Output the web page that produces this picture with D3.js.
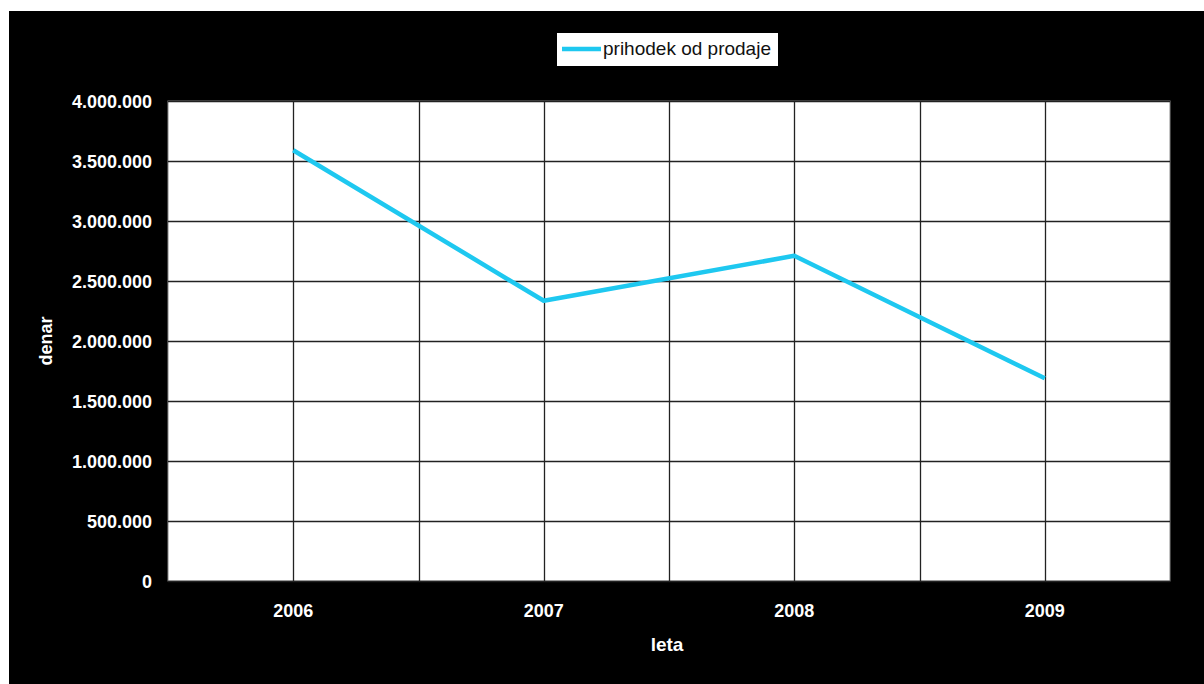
<!DOCTYPE html>
<html><head><meta charset="utf-8">
<script src="https://cdn.jsdelivr.net/npm/d3@7"></script>
<style>
html,body{margin:0;padding:0;background:#fff;}
svg{display:block;}
text{font-family:"Liberation Sans",Arial,sans-serif;}
</style></head>
<body>
<svg id="c" width="1204" height="684"></svg>
<script>
const years = ["2006","2007","2008","2009"];
const revenue = [3590000, 2335000, 2710000, 1690000];
const yTicks = [0,500000,1000000,1500000,2000000,2500000,3000000,3500000,4000000];
const seriesName = "prihodek od prodaje";
const xTitle = "leta";
const yTitle = "denar";

const svg = d3.select("#c");
svg.append("rect").attr("x",9).attr("y",11).attr("width",1195).attr("height",673).attr("fill","#000");

const L=168, R=1170, T=101, B=581;
const x = d3.scaleBand().domain(years).range([L,R]).padding(0);
const y = d3.scaleLinear().domain([0,4000000]).range([B,T]);

svg.append("rect").attr("x",L).attr("y",T).attr("width",R-L).attr("height",B-T).attr("fill","#fff").attr("stroke","#888").attr("stroke-width",1);

// horizontal gridlines
svg.append("g").selectAll("line").data(yTicks).join("line")
  .attr("x1",L).attr("x2",R).attr("y1",d=>Math.round(y(d))+0.5).attr("y2",d=>Math.round(y(d))+0.5)
  .attr("stroke","#222").attr("stroke-width",1.3);

// vertical gridlines at centers and inner boundaries
const vpos = years.map(d=>x(d)+x.bandwidth()/2).concat(years.slice(1).map(d=>x(d)));
svg.append("g").selectAll("line").data(vpos).join("line")
  .attr("x1",d=>Math.round(d)+0.5).attr("x2",d=>Math.round(d)+0.5).attr("y1",T).attr("y2",B)
  .attr("stroke","#222").attr("stroke-width",1.3);

const fmt = v => v===0 ? "0" : d3.format(",")(v).replace(/,/g,".");

// y axis labels
const yAxis = d3.axisLeft(y).tickValues(yTicks).tickFormat(fmt).tickSize(0).tickPadding(16);
const ga = svg.append("g").attr("transform",`translate(${L},0)`).call(yAxis);
ga.select(".domain").remove();
ga.selectAll("text").attr("fill","#fff").attr("font-size",18).attr("font-weight","bold")
  .attr("font-family","'Liberation Sans',Arial,sans-serif").attr("dy","0.35em");

// x axis labels
const xAxis = d3.axisBottom(x).tickSize(0).tickPadding(23);
const gx = svg.append("g").attr("transform",`translate(0,${B})`).call(xAxis);
gx.select(".domain").remove();
gx.selectAll("text").attr("fill","#fff").attr("font-size",18).attr("font-weight","bold")
  .attr("font-family","'Liberation Sans',Arial,sans-serif");

// axis titles
svg.append("text").attr("x",667).attr("y",651).attr("text-anchor","middle")
  .attr("fill","#fff").attr("font-size",19).attr("font-weight","bold").text(xTitle);
svg.append("text").attr("transform","translate(52,341) rotate(-90)").attr("text-anchor","middle")
  .attr("fill","#fff").attr("font-size",18).attr("font-weight","bold").text(yTitle);

// line
const line = d3.line().x((d,i)=>x(years[i])+x.bandwidth()/2).y(d=>y(d));
svg.append("path").datum(revenue).attr("d",line).attr("fill","none")
  .attr("stroke","#1ec8f0").attr("stroke-width",4.5).attr("stroke-linejoin","round");

// legend
const lg = svg.append("g");
lg.append("rect").attr("x",557).attr("y",33).attr("width",221).attr("height",33).attr("fill","#fff");
lg.append("line").attr("x1",562).attr("x2",601).attr("y1",49).attr("y2",49).attr("stroke","#1ec8f0").attr("stroke-width",4.5);
lg.append("text").attr("x",603).attr("y",55).attr("fill","#111").attr("font-size",19).text(seriesName);
</script>
</body></html>
